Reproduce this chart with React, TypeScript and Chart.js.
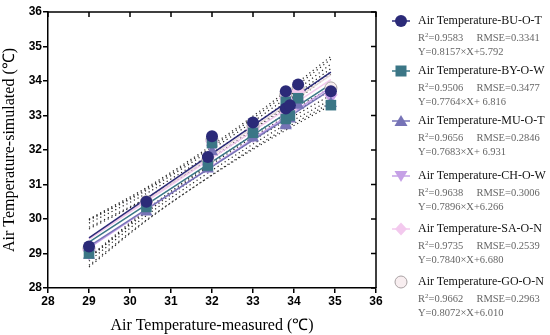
import React, { useEffect, useRef } from "react";
import { Chart, registerables } from "chart.js";

Chart.register(...registerables);

// ---- data ----
const measured = [29, 30.4, 31.9, 32, 33, 33.8, 33.8, 33.9, 34.1, 34.9];
const buSim = [29.2, 30.5, 31.8, 32.4, 32.8, 33.7, 33.2, 33.3, 33.9, 33.7];
const bySim = [29.0, 30.35, 31.55, 32.2, 32.5, 33.4, 32.9, 33.0, 33.5, 33.3];
const muSim = [28.95, 30.2, 31.45, 31.95, 32.35, 32.7, 32.75, 32.9, 33.3, 33.35];
const chSim = [29.0, 30.3, 31.5, 32.05, 32.4, 32.85, 32.9, 33.0, 33.35, 33.5];
const saSim = [29.1, 30.45, 31.6, 32.25, 32.6, 33.5, 33.05, 33.15, 33.7, 33.6];
const goSim = [29.15, 30.5, 31.7, 32.3, 32.7, 33.6, 33.15, 33.25, 33.8, 33.8];

const fitX = [29, 34.9];
const buFit = [29.45, 34.26];
const byFit = [29.33, 33.91];
const muFit = [29.21, 33.75];
const chFit = [29.16, 33.82];
const saFit = [29.42, 34.04];
const goFit = [29.42, 34.18];

const bandX = [29, 30.4, 32, 33.5, 34.9];
const buUpper = [30.0, 30.91, 32.14, 33.42, 34.71];
const buLower = [28.9, 30.27, 31.64, 32.82, 33.81];
const byUpper = [29.88, 30.74, 31.91, 33.13, 34.36];
const byLower = [28.78, 30.1, 31.41, 32.53, 33.46];
const muUpper = [29.76, 30.61, 31.77, 32.97, 34.2];
const muLower = [28.66, 29.97, 31.27, 32.37, 33.3];
const chUpper = [29.71, 30.59, 31.78, 33.02, 34.27];
const chLower = [28.61, 29.95, 31.28, 32.42, 33.37];
const saUpper = [29.97, 30.83, 32.02, 33.24, 34.49];
const saLower = [28.87, 30.19, 31.52, 32.64, 33.59];
const goUpper = [29.97, 30.87, 32.09, 33.35, 34.63];
const goLower = [28.87, 30.23, 31.59, 32.75, 33.73];

const seriesNames = [
  "Air Temperature-BU-O-T",
  "Air Temperature-BY-O-W",
  "Air Temperature-MU-O-T",
  "Air Temperature-CH-O-W",
  "Air Temperature-SA-O-N",
  "Air Temperature-GO-O-N",
];
const r2Labels = ["0.9583", "0.9506", "0.9656", "0.9638", "0.9735", "0.9662"];
const rmseLabels = ["0.3341", "0.3477", "0.2846", "0.3006", "0.2539", "0.2963"];
const eqLabels = [
  "Y=0.8157×X+5.792",
  "Y=0.7764×X+ 6.816",
  "Y=0.7683×X+ 6.931",
  "Y=0.7896×X+6.266",
  "Y=0.7840×X+6.680",
  "Y=0.8072×X+6.010",
];

const colors = ["#2b2a78", "#3b7686", "#7673b6", "#c5a0e6", "#f3c9ee", "#f8eef0"];
const borders = ["#2b2a78", "#3b7686", "#7673b6", "#c5a0e6", "#f3c9ee", "#a8a0a2"];
const styles = ["circle", "rect", "triangle", "triangle", "rectRot", "circle"];
const rotations = [0, 0, 0, 180, 0, 0];
const radii = [6, 7.5, 7, 7, 7, 6];

const sims = [buSim, bySim, muSim, chSim, saSim, goSim];
const fits = [buFit, byFit, muFit, chFit, saFit, goFit];
const uppers = [buUpper, byUpper, muUpper, chUpper, saUpper, goUpper];
const lowers = [buLower, byLower, muLower, chLower, saLower, goLower];

const xTicks = [28, 29, 30, 31, 32, 33, 34, 35, 36];
const yTicks = [28, 29, 30, 31, 32, 33, 34, 35, 36];

const pts = (xs: number[], ys: number[]) => xs.map((x, i) => ({ x, y: ys[i] }));

const framePlugin = {
  id: "frame",
  afterDatasetsDraw(chart: any) {
    const { ctx, chartArea, scales } = chart;
    ctx.save();
    ctx.strokeStyle = "#000";
    ctx.lineWidth = 1.5;
    ctx.beginPath();
    ctx.moveTo(chartArea.left, chartArea.top);
    ctx.lineTo(chartArea.right, chartArea.top);
    ctx.lineTo(chartArea.right, chartArea.bottom);
    ctx.stroke();
    xTicks.forEach((v) => {
      const px = scales.x.getPixelForValue(v);
      ctx.beginPath();
      ctx.moveTo(px, chartArea.top);
      ctx.lineTo(px, chartArea.top + 5);
      ctx.stroke();
    });
    yTicks.forEach((v) => {
      const py = scales.y.getPixelForValue(v);
      ctx.beginPath();
      ctx.moveTo(chartArea.right, py);
      ctx.lineTo(chartArea.right - 5, py);
      ctx.stroke();
    });
    ctx.restore();
  },
};

function Marker({ i }: { i: number }) {
  const c = colors[i];
  const b = borders[i];
  let shape: any = null;
  if (styles[i] === "circle" && i === 0) shape = <circle cx={10} cy={8} r={6} fill={c} />;
  else if (styles[i] === "circle") shape = <circle cx={10} cy={8} r={6} fill={c} stroke={b} strokeWidth={1} />;
  else if (styles[i] === "rect") shape = <rect x={4.5} y={2.5} width={11} height={11} fill={c} />;
  else if (i === 2) shape = <polygon points="10,2 16.5,13 3.5,13" fill={c} />;
  else if (i === 3) shape = <polygon points="10,14 16.5,3 3.5,3" fill={c} />;
  else shape = <polygon points="10,1.5 16,8 10,14.5 4,8" fill={c} />;
  return (
    <svg width={22} height={16} style={{ position: "absolute", left: 391, top: 0 }}>
      {i < 5 && <line x1={1} y1={8} x2={19} y2={8} stroke={c} strokeWidth={1.5} />}
      {shape}
    </svg>
  );
}

export default function App() {
  const ref = useRef<HTMLCanvasElement>(null);
  useEffect(() => {
    if (!ref.current) return;
    const datasets: any[] = [];
    sims.forEach((s, i) => {
      datasets.push({
        type: "scatter",
        label: seriesNames[i],
        data: pts(measured, s),
        backgroundColor: colors[i],
        borderColor: borders[i],
        borderWidth: i === 5 ? 1 : 0,
        pointStyle: styles[i],
        rotation: rotations[i],
        pointRadius: radii[i],
        order: i,
      });
    });
    fits.forEach((f, i) => {
      datasets.push({
        type: "line",
        data: pts(fitX, f),
        borderColor: i === 5 ? "#e8d8dc" : colors[i],
        borderWidth: 1.5,
        pointRadius: 0,
        fill: false,
        order: 10 + i,
      });
    });
    uppers.forEach((u, i) => {
      [u, lowers[i]].forEach((arr) => {
        datasets.push({
          type: "line",
          data: pts(bandX, arr),
          borderColor: "#222",
          borderWidth: 1.2,
          borderDash: [1.2, 3],
          pointRadius: 0,
          fill: false,
          tension: 0.4,
          cubicInterpolationMode: "monotone",
          order: 20 + i,
        });
      });
    });
    const chart = new Chart(ref.current, {
      type: "scatter",
      data: { datasets },
      options: {
        animation: false,
        responsive: false,
        layout: { padding: { top: 12, right: 174, left: 0, bottom: 0 } },
        plugins: { legend: { display: false }, tooltip: { enabled: false } },
        scales: {
          x: {
            type: "linear",
            min: 28,
            max: 36,
            afterBuildTicks: (scale: any) => {
              scale.ticks = xTicks.map((v) => ({ value: v }));
            },
            afterFit: (scale: any) => {
              scale.height = 47;
            },
            grid: { drawOnChartArea: false, drawTicks: true, tickLength: 5, color: "#000", lineWidth: 1.5 },
            border: { display: true, color: "#000", width: 1.5 },
            ticks: {
              color: "#000",
              font: { family: "'Liberation Sans', Arial, sans-serif", size: 12, weight: "bold" },
              padding: 1,
              maxRotation: 0,
            },
            title: {
              display: true,
              text: "Air Temperature-measured (℃)",
              color: "#000",
              font: { family: "'Liberation Serif', serif", size: 16 },
              padding: { top: 6, bottom: 0 },
            },
          },
          y: {
            type: "linear",
            min: 28,
            max: 36,
            afterBuildTicks: (scale: any) => {
              scale.ticks = yTicks.map((v) => ({ value: v }));
            },
            afterFit: (scale: any) => {
              scale.width = 48;
            },
            grid: { drawOnChartArea: false, drawTicks: true, tickLength: 5, color: "#000", lineWidth: 1.5 },
            border: { display: true, color: "#000", width: 1.5 },
            ticks: {
              color: "#000",
              font: { family: "'Liberation Sans', Arial, sans-serif", size: 12, weight: "bold" },
              padding: 1,
            },
            title: {
              display: true,
              text: "Air Temperature-simulated (℃)",
              color: "#000",
              font: { family: "'Liberation Serif', serif", size: 16 },
              padding: { top: 0, bottom: 2 },
            },
          },
        },
      },
      plugins: [framePlugin],
    });
    return () => chart.destroy();
  }, []);

  const entryTops = [13, 63, 113, 168, 221, 274];
  return (
    <div style={{ position: "fixed", left: 0, top: 0, width: 550, height: 335, background: "#fff" }}>
      <canvas ref={ref} width={550} height={335} style={{ display: "block" }} />
      {seriesNames.map((name, i) => (
        <div key={name} style={{ position: "absolute", left: 0, top: entryTops[i], width: 550 }}>
          <Marker i={i} />
          <div
            style={{
              position: "absolute",
              left: 418,
              top: 0,
              fontFamily: "'Liberation Serif', serif",
              fontSize: 12,
              color: "#111",
              whiteSpace: "nowrap",
              lineHeight: "15px",
            }}
          >
            {name}
          </div>
          <div
            style={{
              position: "absolute",
              left: 418,
              top: 15,
              fontFamily: "'Liberation Serif', serif",
              fontSize: 10.5,
              color: "#666",
              whiteSpace: "pre",
              lineHeight: "14px",
            }}
          >
            {"R"}
            <sup style={{ fontSize: 7, verticalAlign: "4px" }}>2</sup>
            {"=" + r2Labels[i] + "     RMSE=" + rmseLabels[i]}
            <br />
            {eqLabels[i]}
          </div>
        </div>
      ))}
    </div>
  );
}
